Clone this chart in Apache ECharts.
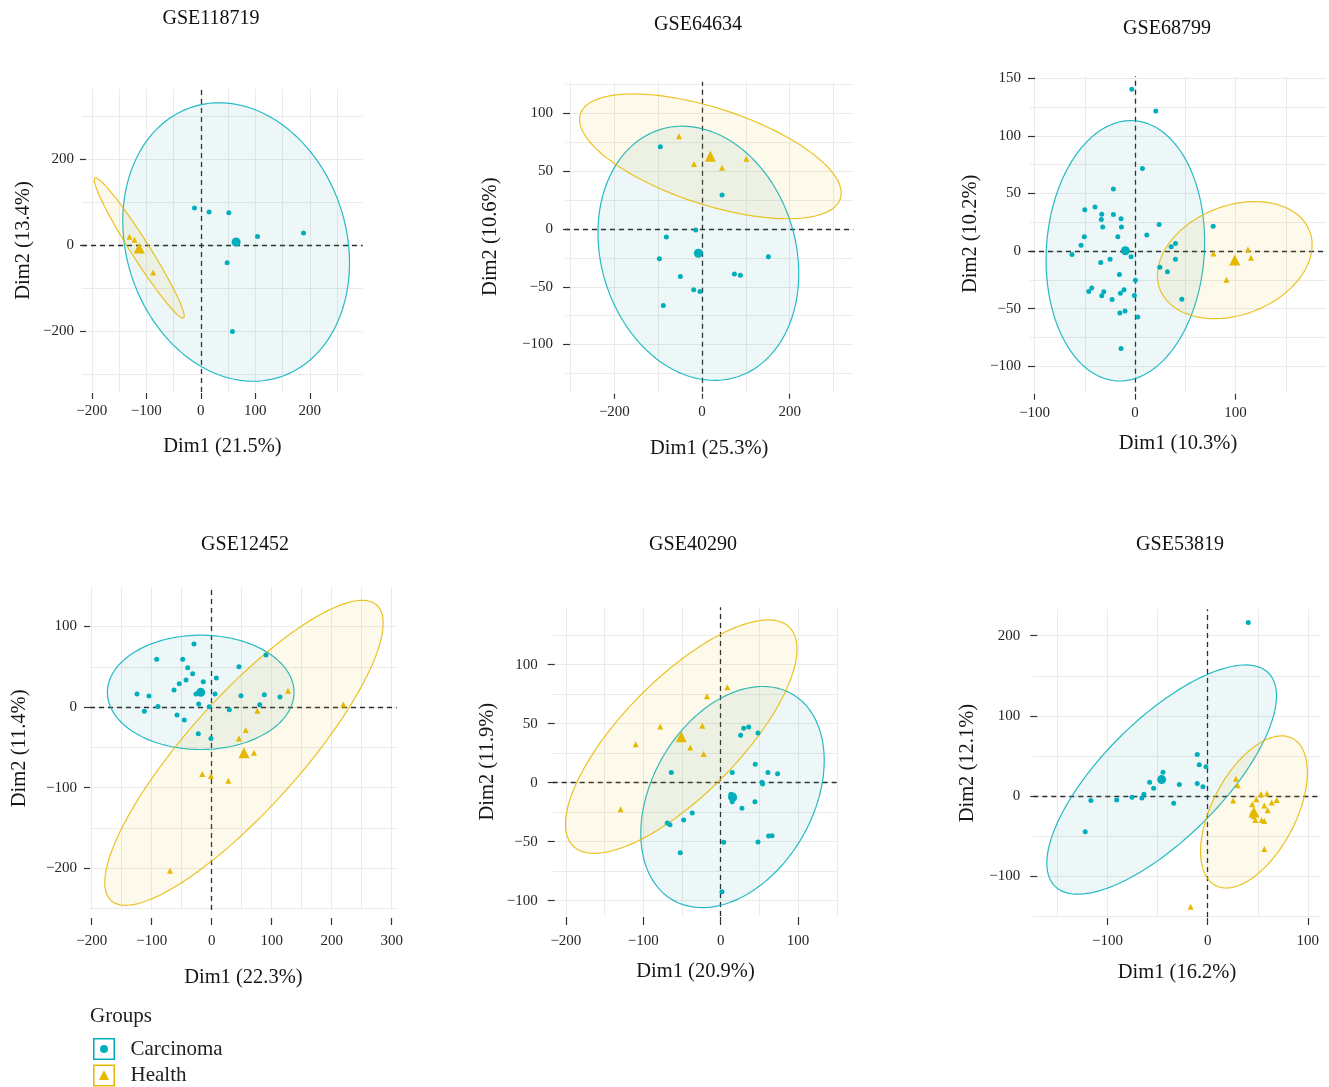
<!DOCTYPE html>
<html>
<head>
<meta charset="utf-8">
<script src="https://cdn.jsdelivr.net/npm/echarts@6/dist/echarts.min.js"></script>
<style>
html,body{margin:0;padding:0;background:#fff;}
#chart{width:1329px;height:1087px;}
</style>
</head>
<body>
<div id="chart"></div>
<script>
// ---------------- DATA ----------------
const panelTitles = ['GSE118719', 'GSE64634', 'GSE68799', 'GSE12452', 'GSE40290', 'GSE53819'];
const xNames = ['Dim1 (21.5%)', 'Dim1 (25.3%)', 'Dim1 (10.3%)', 'Dim1 (22.3%)', 'Dim1 (20.9%)', 'Dim1 (16.2%)'];
const yNames = ['Dim2 (13.4%)', 'Dim2 (10.6%)', 'Dim2 (10.2%)', 'Dim2 (11.4%)', 'Dim2 (11.9%)', 'Dim2 (12.1%)'];
const groupNames = ['Carcinoma', 'Health'];

const xTicks = [
  [-200, -100, 0, 100, 200],
  [-200, 0, 200],
  [-100, 0, 100],
  [-200, -100, 0, 100, 200, 300],
  [-200, -100, 0, 100],
  [-100, 0, 100]
];
const yTicks = [
  [-200, 0, 200],
  [-100, -50, 0, 50, 100],
  [-100, -50, 0, 50, 100, 150],
  [-200, -100, 0, 100],
  [-100, -50, 0, 50, 100],
  [-100, 0, 100, 200]
];
// major + minor grid line values
const gridX = [
  [-200, -150, -100, -50, 0, 50, 100, 150, 200, 250],
  [-300, -200, -100, 0, 100, 200, 300],
  [-100, -50, 0, 50, 100, 150],
  [-200, -150, -100, -50, 0, 50, 100, 150, 200, 250, 300],
  [-200, -150, -100, -50, 0, 50, 100, 150],
  [-150, -100, -50, 0, 50, 100]
];
const gridY = [
  [-300, -200, -100, 0, 100, 200, 300],
  [-125, -100, -75, -50, -25, 0, 25, 50, 75, 100, 125],
  [-100, -75, -50, -25, 0, 25, 50, 75, 100, 125, 150],
  [-250, -200, -150, -100, -50, 0, 50, 100],
  [-100, -75, -50, -25, 0, 25, 50, 75, 100, 125],
  [-150, -100, -50, 0, 50, 100, 150, 200]
];

const carcinoma1 = [[-11.6, 86], [15.2, 76.7], [51.4, 75], [104, 20], [188.4, 28], [48.3, -41], [58, -201]];
const health1 = [[-130.8, 19.3], [-121.7, 12.3], [-87.5, -63.7]];

const carcinoma2 = [[-95.1, 71.3], [45.6, 29.4], [-14.4, -0.9], [-81.4, -6.9], [-97.4, -25.7], [151.3, -24],
  [-49.5, -41], [73.7, -39], [87.4, -40.1], [-19, -52.5], [-4.6, -54], [-88.3, -66.1]];
const health2 = [[-52.5, 80.3], [-18.3, 56.3], [45.6, 53.1], [101.1, 60.9]];

const carcinoma3 = [[-3.3, 140.5], [20.6, 121.6], [7.3, 71.8], [-21.6, 53.9], [-39.9, 38.2], [-50.1, 35.9],
  [-33.2, 32.1], [-21.6, 31.9], [-33.6, 27.5], [-14, 28.1], [-32.2, 20.9], [-13.6, 20.9], [23.9, 23.2],
  [11.6, 13.9], [-50.5, 12.4], [-17.2, 12.4], [-53.8, 5.2], [-62.8, -2.9], [-4, -4.9], [-24.9, -7],
  [-34.2, -9.8], [35.9, 3.7], [40.2, 6.7], [40.2, -7], [24.6, -13.9], [32.2, -18], [0.3, -25.2],
  [-15.6, -20.2], [77.7, 21.5], [46.5, -41.7], [-43.2, -31.9], [-46.1, -35], [-31.2, -35.3], [-33.2, -38.8],
  [-11, -33.6], [-14.6, -36.5], [-0.7, -38.5], [-22.9, -42], [-10, -51.9], [-15.2, -53.6], [2.7, -57.1],
  [-14, -84.6]];
const health3 = [[78, -2], [112.3, 1.5], [115.3, -5.8], [91, -24.9]];

const carcinoma4 = [[-29.5, 78.3], [-91.7, 59.3], [-48.3, 59.3], [90.5, 64.6], [-40, 48.8], [45.5, 50.1],
  [-31.7, 41.4], [-42.8, 33.5], [7.7, 36], [-14, 31.4], [-54, 29], [-62.8, 21.1], [-26.2, 16.1],
  [-124.5, 16.1], [-104.5, 13.7], [5.5, 16.1], [48.8, 14], [87.7, 15.3], [113.8, 12.4], [-21.7, 3.7],
  [-89.5, 0.8], [-4, 0.4], [80, 2.9], [-112.3, -5.3], [29.3, -3.3], [-57.8, -9.9], [-45.7, -16.1],
  [-22.3, -33.1], [-1.2, -38.9]];
const health4 = [[127.2, 20.3], [219.3, 3.3], [76, -4.6], [56.7, -28.6], [45.5, -38.9], [70.5, -56.8],
  [-15.7, -83.2], [-1.2, -85.7], [27.7, -91.5], [-69.5, -203.3]];

const carcinoma5 = [[25.8, 40.2], [29.7, 46.1], [36.2, 47.2], [48.2, 42.1], [-63.8, 8.5], [15, 8.5],
  [44.7, 15.6], [61.1, 8.5], [73.6, 7.6], [53.3, 0.3], [54.2, -1.1], [13.3, -9.8], [16.3, -11.9],
  [17.5, -13.5], [15, -16.1], [44.3, -16.1], [27.5, -21.7], [-36.7, -25.7], [-47.8, -31.6], [-69, -34.2],
  [-65.5, -35.6], [3.9, -50.5], [48.2, -50.3], [62, -45.2], [66.3, -44.9], [-52.2, -59.3], [1.7, -92.4]];
const health5 = [[8.6, 80.8], [-17.7, 73.2], [-78, 47.5], [-23.8, 48.3], [-109.8, 32.5], [-39.3, 29.7],
  [-22, 24.3], [-129.2, -22.5]];

const carcinoma6 = [[40.5, 216.6], [-10.4, 51.7], [-8.4, 38.8], [-1.7, 36.3], [-44.6, 29.6], [-57.9, 17.1],
  [-53.9, 9.6], [-28.3, 14.2], [-10.4, 15.4], [-4.7, 11.3], [-63.6, 2.1], [-75.5, -1.7], [-65.6, -2.5],
  [-90.8, -5], [-116.5, -5.8], [-33.9, -9.2], [-122.2, -44.6]];
const health6 = [[28.2, 21.3], [29.9, 13.3], [25.5, -5.8], [53.2, 2.5], [59.2, 2.9], [48.5, -4.2],
  [68.9, -5], [63.9, -8.3], [44.5, -10.4], [56.5, -12.1], [59.9, -17.9], [44.5, -20.5], [47.5, -23],
  [46, -25.5], [47.5, -30], [53.9, -30], [56.5, -31.3], [56.5, -66.3], [-17, -138.3]];

const carcinomaPoints = [carcinoma1, carcinoma2, carcinoma3, carcinoma4, carcinoma5, carcinoma6];
const healthPoints = [health1, health2, health3, health4, health5, health6];

// group centres (large markers, also ellipse centres)
const carcinomaCentroids = [[64.8, 7], [-8.4, -21], [-9.7, 0.3], [-18.3, 18.3], [15.3, -12.2], [-45.9, 20.4]];
const healthCentroids = [[-113, -7], [19, 62.9], [99.2, -7.8], [53.8, -56.8], [-50.9, 39], [46.2, -20]];

// ellipse: [half-width in x, half-height in y, correlation]
const carcinomaEllipses = [[208, 324, -0.15], [229, 110, -0.16], [78.9, 113, 0.07], [155.5, 71, 0.0], [118.5, 93.7, 0.33], [114.6, 143.1, 0.73]];
const healthEllipses = [[82.5, 163, -0.97], [298.5, 54, -0.59], [77, 50.8, 0.26], [232, 189.4, 0.85], [149.6, 98.9, 0.75], [53.3, 95, 0.52]];

// ---------------- LAYOUT ----------------
const layout = [
  {l: 82, t: 89, r: 362.7, b: 392, xr: [-218, 297], yr: [-342, 363], xOff: 1, xTick: 6, xMargin: 11, xGap: 43, yOff: -4, yTick: 6, yMargin: 12, yGap: 52, title: [211, 8.5]},
  {l: 565, t: 81.7, r: 853.3, b: 391.7, xr: [-312.6, 345], yr: [-140.8, 127.5], xOff: 2, xTick: 5, xMargin: 11, xGap: 44, yOff: -5, yTick: 7, yMargin: 17, yGap: 69, title: [698, 14.5]},
  {l: 1030, t: 76, r: 1326, b: 391.7, xr: [-104.6, 190], yr: [-122, 152], xOff: 2, xTick: 6, xMargin: 12, xGap: 39, yOff: -5, yTick: 7, yMargin: 14, yGap: 54, title: [1167, 18.5]},
  {l: 90, t: 586.7, r: 396.7, b: 910, xr: [-202.8, 308.3], yr: [-252, 149.5], xOff: 8, xTick: 7, xMargin: 16, xGap: 49, yOff: 0, yTick: 6, yMargin: 13, yGap: 60, title: [245, 535]},
  {l: 552.7, t: 607.3, r: 838.3, b: 916, xr: [-217, 152], yr: [-113, 148.6], xOff: 1, xTick: 8, xMargin: 17, xGap: 44, yOff: -2, yTick: 7, yMargin: 17, yGap: 57, title: [693, 534.5]},
  {l: 1033.3, t: 609.3, r: 1320.7, b: 917, xr: [-174, 112.8], yr: [-151.2, 233], xOff: 1, xTick: 7, xMargin: 16, xGap: 44, yOff: -4, yTick: 7, yMargin: 17, yGap: 59, title: [1180, 535]}
];

const FONT = '"Liberation Serif", "DejaVu Serif", serif';
const TEAL = '#00AFBB';
const GOLD = '#E7B800';
const groupColors = [TEAL, GOLD];
const groupFills = ['rgba(20,150,160,0.09)', 'rgba(231,184,0,0.09)'];

function fmt(v) { return v < 0 ? '\u2212' + Math.abs(v) : String(v); }

function ellipseRender(color, fill) {
  return function (params, api) {
    const cx = api.value(0), cy = api.value(1), w = api.value(2), h = api.value(3), r = api.value(4);
    const s = Math.sqrt(Math.max(0, 1 - r * r));
    const pts = [];
    const N = 160;
    for (let i = 0; i < N; i++) {
      const t = 2 * Math.PI * i / N;
      pts.push(api.coord([cx + w * Math.cos(t), cy + h * (r * Math.cos(t) + s * Math.sin(t))]));
    }
    return {type: 'polygon', shape: {points: pts}, style: {fill: fill, stroke: color, lineWidth: 1.2, opacity: 0.85}};
  };
}

const grids = [], xAxes = [], yAxes = [], series = [], titles = [];

layout.forEach((L, i) => {
  grids.push({left: L.l, top: L.t, width: L.r - L.l, height: L.b - L.t, containLabel: false});
  xAxes.push({
    gridIndex: i, type: 'value', min: L.xr[0], max: L.xr[1], offset: L.xOff,
    axisLine: {show: false, onZero: false},
    axisTick: {show: true, length: L.xTick, customValues: xTicks[i], lineStyle: {color: '#333', width: 1.2}},
    axisLabel: {show: true, customValues: xTicks[i], margin: L.xMargin, fontSize: 15, fontFamily: FONT, color: '#262626', formatter: fmt, hideOverlap: false},
    splitLine: {show: false},
    name: xNames[i], nameLocation: 'middle', nameGap: L.xGap,
    nameTextStyle: {fontSize: 20.5, fontFamily: FONT, color: '#161616'}
  });
  yAxes.push({
    gridIndex: i, type: 'value', min: L.yr[0], max: L.yr[1], offset: L.yOff,
    axisLine: {show: false, onZero: false},
    axisTick: {show: true, length: L.yTick, customValues: yTicks[i], lineStyle: {color: '#333', width: 1.2}},
    axisLabel: {show: true, customValues: yTicks[i], margin: L.yMargin, fontSize: 15, fontFamily: FONT, color: '#262626', formatter: fmt, hideOverlap: false},
    splitLine: {show: false},
    name: yNames[i], nameLocation: 'middle', nameGap: L.yGap,
    nameTextStyle: {fontSize: 20.5, fontFamily: FONT, color: '#161616'}
  });
  titles.push({
    text: panelTitles[i], left: L.title[0], top: L.title[1], textAlign: 'center', padding: 0,
    textStyle: {fontSize: 20, fontWeight: 'normal', fontFamily: FONT, color: '#111'}
  });

  // grid lines
  series.push({
    type: 'scatter', xAxisIndex: i, yAxisIndex: i, data: [], silent: true, z: 0,
    markLine: {
      silent: true, symbol: ['none', 'none'], animation: false, z: 0,
      label: {show: false},
      lineStyle: {color: '#EBEBEB', width: 1, type: 'solid'},
      emphasis: {disabled: true},
      data: gridX[i].map(v => ({xAxis: v})).concat(gridY[i].map(v => ({yAxis: v})))
    }
  });
  // zero reference lines
  series.push({
    type: 'scatter', xAxisIndex: i, yAxisIndex: i, data: [], silent: true, z: 1,
    markLine: {
      silent: true, symbol: ['none', 'none'], animation: false, z: 1,
      label: {show: false},
      lineStyle: {color: '#2e2e2e', width: 1.3, type: [5, 4]},
      emphasis: {disabled: true},
      data: [{xAxis: 0}, {yAxis: 0}]
    }
  });

  // ellipses
  const ells = [carcinomaEllipses[i], healthEllipses[i]];
  const cents = [carcinomaCentroids[i], healthCentroids[i]];
  [0, 1].forEach(g => {
    series.push({
      type: 'custom', name: groupNames[g], xAxisIndex: i, yAxisIndex: i, z: 2, silent: true,
      itemStyle: {color: groupColors[g]},
      renderItem: ellipseRender(groupColors[g], groupFills[g]),
      encode: {x: 0, y: 1},
      data: [[cents[g][0], cents[g][1], ells[g][0], ells[g][1], ells[g][2]]]
    });
  });

  // points
  series.push({
    type: 'scatter', name: 'Carcinoma', xAxisIndex: i, yAxisIndex: i, z: 3,
    symbol: 'circle', symbolSize: 5, itemStyle: {color: TEAL, opacity: 1},
    data: carcinomaPoints[i]
  });
  series.push({
    type: 'scatter', name: 'Health', xAxisIndex: i, yAxisIndex: i, z: 3,
    symbol: 'triangle', symbolSize: 6, itemStyle: {color: GOLD, opacity: 1},
    data: healthPoints[i]
  });
  series.push({
    type: 'scatter', name: 'Carcinoma', xAxisIndex: i, yAxisIndex: i, z: 4,
    symbol: 'circle', symbolSize: 9, itemStyle: {color: TEAL, opacity: 1},
    data: [carcinomaCentroids[i]]
  });
  series.push({
    type: 'scatter', name: 'Health', xAxisIndex: i, yAxisIndex: i, z: 4,
    symbol: 'triangle', symbolSize: 11, itemStyle: {color: GOLD, opacity: 1},
    data: [healthCentroids[i]]
  });
});

titles.push({
  text: 'Groups', left: 90, top: 1006, padding: 0,
  textStyle: {fontSize: 21, fontWeight: 'normal', fontFamily: FONT, color: '#222'}
});

const ringSquare = 'M0,0 L100,0 L100,100 L0,100 Z M7,7 L7,93 L93,93 L93,7 Z ';
const iconCircle = 'path://' + ringSquare + 'M50,32 A18,18 0 1,0 50,68 A18,18 0 1,0 50,32 Z';
const iconTriangle = 'path://' + ringSquare + 'M50,26 L73,70 L27,70 Z';

const option = {
  animation: false,
  backgroundColor: '#ffffff',
  title: titles,
  grid: grids,
  xAxis: xAxes,
  yAxis: yAxes,
  legend: {
    orient: 'vertical', left: 93, top: 1038, padding: 0,
    itemWidth: 23, itemHeight: 22, itemGap: 4.5,
    textStyle: {fontSize: 21, fontFamily: FONT, color: '#222', padding: [0, 0, 0, 10]},
    data: [{name: 'Carcinoma', icon: iconCircle}, {name: 'Health', icon: iconTriangle}]
  },
  series: series
};

const chart = echarts.init(document.getElementById('chart'), null, {renderer: 'canvas'});
chart.setOption(option);
</script>
</body>
</html>
